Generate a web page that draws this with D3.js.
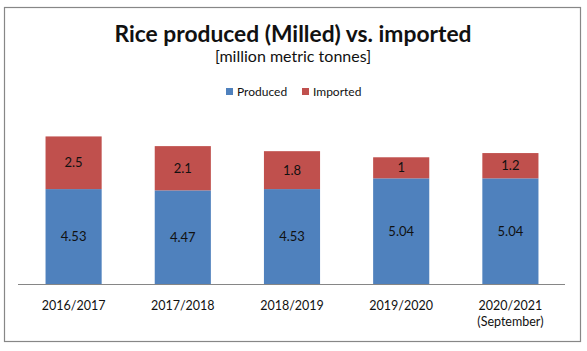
<!DOCTYPE html>
<html>
<head>
<meta charset="utf-8">
<script src="https://cdn.jsdelivr.net/npm/d3@7"></script>
<style>
  body { margin: 0; background: #fff; }
  text { font-family: Lato, "Open Sans", sans-serif; fill: #111; }
</style>
</head>
<body>
<div id="root"></div>
<script>
// chart values
var years = ["2016/2017", "2017/2018", "2018/2019", "2019/2020", "2020/2021"];
var yearNotes = ["", "", "", "", "(September)"];
var produced = [4.53, 4.47, 4.53, 5.04, 5.04];
var imported = [2.5, 2.1, 1.8, 1, 1.2];
var seriesNames = ["Produced", "Imported"];
var colors = ["#4f81bd", "#c0504d"];

window.onload = function () {
    var width = 587, height = 351;
    var svg = d3.select("#root")
        .append('svg')
        .attr('width', width)
        .attr('height', height);

    // outer frame
    svg.append('rect')
        .attr('x', 4.5).attr('y', 7.5)
        .attr('width', 576).attr('height', 334)
        .attr('fill', '#fff')
        .attr('stroke', '#878787')
        .attr('stroke-width', 1.2);

    var x = d3.scaleBand()
        .domain(years)
        .range([19, 565])
        .paddingInner(0.486)
        .paddingOuter(0.243);
    var y = d3.scaleLinear()
        .domain([0, 8])
        .range([284.5, 116]);

    var rows = years.map(function (d, i) {
        return { year: d, note: yearNotes[i], Produced: produced[i], Imported: imported[i] };
    });
    var stacked = d3.stack().keys(seriesNames)(rows);

    var layers = svg.append('g').attr('class', 'bars')
        .selectAll('g')
        .data(stacked)
        .enter()
        .append('g')
        .attr('fill', function (d, i) { return colors[i]; });

    layers.selectAll('rect')
        .data(function (d) { return d; })
        .enter()
        .append('rect')
        .attr('x', function (d) { return x(d.data.year); })
        .attr('y', function (d) { return y(d[1]); })
        .attr('width', x.bandwidth())
        .attr('height', function (d) { return y(d[0]) - y(d[1]); });

    // data labels
    stacked.forEach(function (layer) {
        svg.append('g')
            .selectAll('text')
            .data(layer)
            .enter()
            .append('text')
            .attr('x', function (d) { return x(d.data.year) + x.bandwidth() / 2; })
            .attr('y', function (d) { return (y(d[0]) + y(d[1])) / 2; })
            .attr('text-anchor', 'middle')
            .attr('dy', '0.36em')
            .attr('font-size', 13)
            .text(function (d) { return d.data[layer.key]; });
    });

    // baseline
    svg.append('line')
        .attr('x1', 18).attr('x2', 565)
        .attr('y1', y(0)).attr('y2', y(0))
        .attr('stroke', '#868686')
        .attr('stroke-width', 1);

    // category labels
    var cats = svg.append('g').selectAll('text')
        .data(rows)
        .enter()
        .append('text')
        .attr('x', function (d) { return x(d.year) + x.bandwidth() / 2; })
        .attr('y', 310)
        .attr('text-anchor', 'middle')
        .attr('font-size', 12.5);
    cats.append('tspan').text(function (d) { return d.year; });
    cats.append('tspan')
        .attr('x', function (d) { return x(d.year) + x.bandwidth() / 2; })
        .attr('dy', 16)
        .text(function (d) { return d.note; });

    // titles
    svg.append('text')
        .attr('x', 293).attr('y', 41.5)
        .attr('text-anchor', 'middle')
        .attr('font-size', 22.8)
        .attr('font-weight', 'bold')
        .text('Rice produced (Milled) vs. imported');
    svg.append('text')
        .attr('x', 293).attr('y', 62)
        .attr('text-anchor', 'middle')
        .attr('font-size', 16)
        .text('[million metric tonnes]');

    // legend
    var legendX = [226, 302];
    var legend = svg.append('g').selectAll('g')
        .data(seriesNames)
        .enter()
        .append('g')
        .attr('transform', function (d, i) { return 'translate(' + legendX[i] + ',88)'; });
    legend.append('rect')
        .attr('width', 7).attr('height', 7)
        .attr('fill', function (d, i) { return colors[i]; });
    legend.append('text')
        .attr('x', 11).attr('y', 3.5)
        .attr('dy', '0.36em')
        .attr('font-size', 12)
        .text(function (d) { return d; });
};
</script>
</body>
</html>
